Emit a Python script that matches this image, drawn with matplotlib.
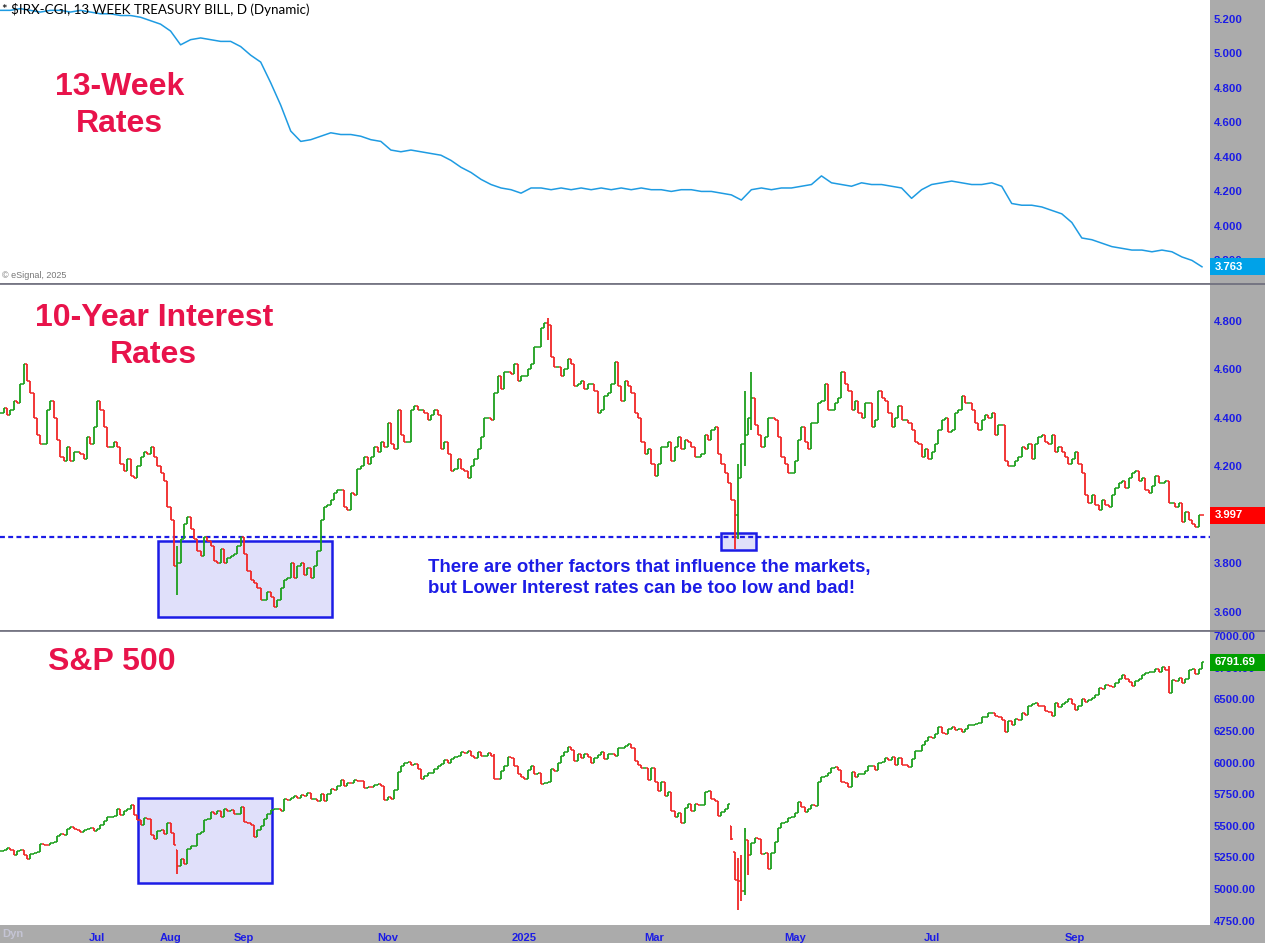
import numpy as np
import matplotlib
matplotlib.use("Agg")
import matplotlib.pyplot as plt
from matplotlib.patches import Rectangle
from matplotlib.lines import Line2D
from matplotlib.transforms import blended_transform_factory

# ---------------- data ----------------
# trading days per month shown (May 17 2024 ... Oct 24 2025)
month_names = ["May", "Jun", "Jul", "Aug", "Sep", "Oct", "Nov", "Dec", "2025",
               "Feb", "Mar", "Apr", "May", "Jun", "Jul", "Aug", "Sep", "Oct"]
month_days = [10, 19, 22, 22, 20, 23, 20, 21, 20, 19, 21, 21, 21, 20, 22, 21, 21, 18]
month_labelled = ["Jul", "Aug", "Sep", "Nov", "2025", "Mar", "May", "Jul", "Sep"]
month_label_slots = [2, 3, 4, 6, 8, 10, 12, 14, 16]

# 13-week T-bill (one reading every 3 trading days)
tbill = [5.25, 5.25, 5.26, 5.25, 5.24, 5.25, 5.25, 5.24, 5.25, 5.24,
         5.23, 5.23, 5.22, 5.22, 5.21, 5.19, 5.17, 5.13, 5.05, 5.08,
         5.09, 5.08, 5.07, 5.07, 5.04, 4.99, 4.95, 4.83, 4.70, 4.55,
         4.49, 4.50, 4.52, 4.54, 4.53, 4.53, 4.52, 4.50, 4.49, 4.44,
         4.43, 4.44, 4.43, 4.42, 4.41, 4.38, 4.34, 4.31, 4.27, 4.24,
         4.22, 4.21, 4.19, 4.22, 4.22, 4.21, 4.22, 4.21, 4.22, 4.21,
         4.22, 4.21, 4.22, 4.21, 4.22, 4.21, 4.21, 4.20, 4.21, 4.21,
         4.20, 4.20, 4.19, 4.18, 4.15, 4.21, 4.22, 4.21, 4.22, 4.22,
         4.23, 4.24, 4.29, 4.25, 4.24, 4.23, 4.25, 4.24, 4.24, 4.23,
         4.22, 4.16, 4.21, 4.24, 4.25, 4.26, 4.25, 4.24, 4.24, 4.25,
         4.23, 4.13, 4.12, 4.12, 4.11, 4.09, 4.07, 4.02, 3.93, 3.92,
         3.90, 3.88, 3.87, 3.86, 3.86, 3.85, 3.86, 3.85, 3.82, 3.80,
         3.763]

# 10-year yield daily closes
ten_year = [
    4.42, 4.44, 4.41, 4.43, 4.47, 4.46, 4.54, 4.62, 4.55, 4.50,
    4.40, 4.33, 4.29, 4.29, 4.43, 4.47, 4.40, 4.31, 4.24, 4.22, 4.28, 4.22, 4.26, 4.26, 4.25, 4.23, 4.32, 4.29, 4.36,
    4.47, 4.43, 4.36, 4.28, 4.28, 4.30, 4.28, 4.21, 4.18, 4.23, 4.16, 4.15, 4.20, 4.24, 4.26, 4.25, 4.28, 4.24, 4.20, 4.17, 4.14, 4.03,
    3.98, 3.79, 3.80, 3.90, 3.96, 3.99, 3.94, 3.90, 3.85, 3.83, 3.91, 3.89, 3.87, 3.81, 3.80, 3.86, 3.80, 3.82, 3.83, 3.84, 3.87, 3.91,
    3.84, 3.77, 3.73, 3.72, 3.70, 3.65, 3.65, 3.68, 3.66, 3.62, 3.65, 3.70, 3.73, 3.74, 3.80, 3.74, 3.79, 3.80, 3.75, 3.78,
    3.74, 3.79, 3.85, 3.98, 4.03, 4.04, 4.06, 4.09, 4.10, 4.10, 4.03, 4.02, 4.09, 4.08, 4.19, 4.20, 4.24, 4.21, 4.24, 4.28, 4.26, 4.30, 4.28,
    4.38, 4.29, 4.27, 4.43, 4.33, 4.30, 4.30, 4.43, 4.45, 4.43, 4.43, 4.42, 4.39, 4.41, 4.43, 4.41, 4.27, 4.30, 4.25, 4.18,
    4.19, 4.23, 4.19, 4.18, 4.15, 4.20, 4.23, 4.27, 4.32, 4.40, 4.40, 4.39, 4.50, 4.57, 4.52, 4.59, 4.59, 4.58, 4.62, 4.55, 4.57,
    4.57, 4.60, 4.62, 4.69, 4.69, 4.77, 4.79, 4.78, 4.65, 4.61, 4.61, 4.57, 4.60, 4.64, 4.62, 4.53, 4.54, 4.55, 4.52, 4.54,
    4.54, 4.51, 4.42, 4.43, 4.49, 4.50, 4.54, 4.63, 4.53, 4.47, 4.55, 4.53, 4.50, 4.42, 4.40, 4.30, 4.25, 4.27, 4.21,
    4.16, 4.21, 4.28, 4.28, 4.30, 4.22, 4.28, 4.32, 4.27, 4.31, 4.30, 4.28, 4.24, 4.24, 4.25, 4.33, 4.31, 4.35, 4.36, 4.25, 4.21,
    4.17, 4.13, 4.06, 4.00, 4.15, 4.29, 4.33, 4.40, 4.48, 4.37, 4.33, 4.28, 4.32, 4.40, 4.40, 4.39, 4.32, 4.24, 4.21, 4.17, 4.17,
    4.22, 4.31, 4.36, 4.30, 4.27, 4.38, 4.38, 4.46, 4.47, 4.54, 4.43, 4.43, 4.46, 4.48, 4.59, 4.54, 4.51, 4.43, 4.47, 4.42, 4.40,
    4.46, 4.46, 4.36, 4.39, 4.51, 4.48, 4.47, 4.42, 4.36, 4.40, 4.45, 4.39, 4.39, 4.38, 4.35, 4.30, 4.29, 4.24, 4.27, 4.23,
    4.26, 4.29, 4.35, 4.39, 4.40, 4.34, 4.35, 4.42, 4.43, 4.49, 4.46, 4.46, 4.43, 4.38, 4.35, 4.39, 4.41, 4.40, 4.42, 4.33, 4.37, 4.37,
    4.22, 4.20, 4.20, 4.22, 4.24, 4.28, 4.27, 4.29, 4.23, 4.29, 4.32, 4.33, 4.30, 4.29, 4.33, 4.26, 4.28, 4.26, 4.24, 4.21, 4.23,
    4.26, 4.21, 4.17, 4.08, 4.05, 4.08, 4.04, 4.02, 4.06, 4.04, 4.03, 4.08, 4.11, 4.13, 4.14, 4.11, 4.15, 4.17, 4.18, 4.14, 4.15,
    4.10, 4.09, 4.12, 4.16, 4.13, 4.13, 4.14, 4.05, 4.05, 4.03, 4.05, 3.97, 4.01, 3.98, 3.96, 3.95, 4.00, 3.997]
# wide-range sessions: (bar number, low, high)
ten_year_wide_bars = [(53, 3.67, 3.87), (164, 4.72, 4.81), (220, 3.86, 4.06),
                      (221, 3.90, 4.21), (223, 4.20, 4.51), (225, 4.35, 4.59)]

# S&P 500 daily closes
spx = [
    5303, 5308, 5321, 5307, 5268, 5305, 5306, 5267, 5235, 5278,
    5283, 5291, 5354, 5352, 5347, 5361, 5375, 5421, 5434, 5431, 5473, 5487, 5473, 5465, 5448, 5469, 5478, 5483, 5460,
    5475, 5509, 5537, 5567, 5572, 5577, 5633, 5585, 5615, 5631, 5667, 5588, 5545, 5505, 5564, 5555, 5427, 5399, 5459, 5464, 5436, 5522,
    5446, 5347, 5186, 5240, 5199, 5319, 5344, 5344, 5434, 5455, 5543, 5554, 5608, 5597, 5621, 5571, 5635, 5616, 5625, 5592, 5592, 5648,
    5529, 5520, 5503, 5408, 5471, 5496, 5554, 5596, 5626, 5634, 5634, 5618, 5714, 5703, 5719, 5732, 5722, 5745, 5738, 5762,
    5709, 5710, 5699, 5751, 5696, 5751, 5793, 5780, 5815, 5859, 5815, 5842, 5841, 5865, 5853, 5851, 5797, 5809, 5808, 5823, 5832, 5813, 5705,
    5729, 5712, 5783, 5929, 5973, 5996, 6001, 5984, 5985, 5949, 5871, 5894, 5917, 5917, 5949, 5970, 5987, 6021, 5999, 6032,
    6047, 6050, 6087, 6075, 6090, 6053, 6035, 6085, 6051, 6051, 6074, 6050, 5872, 5867, 5931, 5975, 6040, 6037, 5971, 5907, 5882,
    5869, 5942, 5975, 5909, 5918, 5827, 5836, 5843, 5950, 5937, 5997, 6049, 6086, 6119, 6101, 6012, 6067, 6039, 6071, 6041,
    5994, 6038, 6061, 6084, 6026, 6066, 6068, 6052, 6115, 6115, 6129, 6144, 6118, 6013, 5983, 5955, 5956, 5861, 5955,
    5850, 5779, 5843, 5738, 5770, 5615, 5573, 5599, 5522, 5639, 5675, 5615, 5675, 5663, 5668, 5768, 5777, 5712, 5693, 5581, 5612,
    5633, 5671, 5397, 5074, 5062, 4983, 5457, 5268, 5363, 5406, 5397, 5276, 5283, 5158, 5288, 5376, 5485, 5525, 5529, 5561, 5569,
    5604, 5687, 5650, 5607, 5631, 5664, 5660, 5844, 5886, 5892, 5917, 5958, 5964, 5940, 5845, 5842, 5803, 5922, 5889, 5912, 5912,
    5936, 5970, 5971, 5939, 6000, 6006, 6039, 6022, 6045, 5977, 6033, 5982, 5981, 5967, 6025, 6092, 6092, 6141, 6173, 6205,
    6198, 6227, 6279, 6230, 6226, 6263, 6280, 6260, 6269, 6244, 6264, 6297, 6297, 6306, 6309, 6359, 6363, 6389, 6390, 6371, 6362, 6339,
    6238, 6330, 6299, 6345, 6340, 6389, 6374, 6446, 6466, 6469, 6450, 6449, 6411, 6396, 6370, 6467, 6440, 6466, 6481, 6502, 6460,
    6416, 6448, 6502, 6482, 6495, 6513, 6532, 6588, 6584, 6615, 6607, 6600, 6632, 6664, 6693, 6657, 6638, 6605, 6644, 6661, 6688,
    6711, 6715, 6716, 6740, 6715, 6753, 6735, 6553, 6655, 6644, 6671, 6630, 6664, 6735, 6736, 6699, 6738, 6791.69]
spx_wide_bars = [(53, 5120, 5312), (148, 5867, 6070), (219, 5390, 5500), (220, 5069, 5292),
                 (221, 4835, 5246), (222, 4910, 5267), (223, 4950, 5481), (224, 5115, 5390),
                 (350, 6550, 6765)]

tbill_ticks = [3.8, 4.0, 4.2, 4.4, 4.6, 4.8, 5.0, 5.2]
ten_ticks = [3.6, 3.8, 4.0, 4.2, 4.4, 4.6, 4.8]
spx_ticks = [4750, 5000, 5250, 5500, 5750, 6000, 6250, 6500, 6750, 7000]

support_level = 3.908
# highlight boxes: (first bar, last bar, low, high)
ten_box_summer = (47.2, 99.4, 3.579, 3.893)
ten_box_april = (215.9, 226.3, 3.854, 3.926)
spx_box_summer = (41.3, 81.3, 5046, 5722)

# ---------------- styling ----------------
W, H = 1265, 943
GRAY = "#ababab"
BLUE = "#1c1ce6"
TITLE = "#e8134b"
GREEN = "#1d9f1d"
RED = "#f02626"
LINEBLUE = "#1e9be2"
plt.rcParams["font.family"] = ["Liberation Sans", "DejaVu Sans"]

fig = plt.figure(figsize=(W / 100, H / 100), dpi=100, facecolor=GRAY)
plot_w = 1210 / W
ax1 = fig.add_axes([0, 1 - 283 / H, plot_w, 283 / H])
ax2 = fig.add_axes([0, 1 - 630 / H, plot_w, 346 / H])
ax3 = fig.add_axes([0, 1 - 925 / H, plot_w, 294 / H])

n = len(ten_year)
month_start = np.concatenate([[0], np.cumsum(month_days)[:-1]])

for ax in (ax1, ax2, ax3):
    ax.set_facecolor("white")
    for s in ax.spines.values():
        s.set_visible(False)
    ax.set_xlim(-0.1, 362.4)
    ax.yaxis.tick_right()
    ax.tick_params(axis="y", length=0, pad=2.5, labelsize=8.2, labelcolor=BLUE)
    ax.set_xticks([])


def draw_ohlc(ax, closes, wide):
    c = np.asarray(closes, dtype=float)
    o = np.r_[c[0], c[:-1]]
    hi = np.maximum(o, c)
    lo = np.minimum(o, c)
    for i, l, h in wide:
        lo[i] = l
        hi[i] = h
    o = np.clip(o, lo, hi)
    cols = np.where(c >= o, GREEN, RED)
    x = np.arange(len(c))
    ax.vlines(x, lo, hi, colors=cols, lw=1.3, zorder=3)
    ax.hlines(o, x - 0.5, x, colors=cols, lw=1.1, zorder=3)
    ax.hlines(c, x, x + 0.5, colors=cols, lw=1.1, zorder=3)


def badge(ax, value, text, color):
    tr = blended_transform_factory(ax.transAxes, ax.transData)
    y0, y1 = ax.get_ylim()
    px_h = ax.get_position().height * H
    h = 17 * (y1 - y0) / px_h
    ax.add_patch(Rectangle((1.0, value - h / 2), W / 1210 - 1.0, h, transform=tr,
                           facecolor=color, edgecolor="none", clip_on=False, zorder=10))
    ax.text(1.0 + 5 / 1210, value, text, transform=tr, color="white", fontsize=8.2,
            fontweight="bold", va="center", ha="left", clip_on=False, zorder=11)


# ---- top: 13-week bill
ax1.set_ylim(3.669, 5.31)
ax1.plot(np.arange(len(tbill)) * 3, tbill, color=LINEBLUE, lw=1.1, zorder=3)
ax1.set_yticks(tbill_ticks)
ax1.set_yticklabels([f"{v:.3f}" for v in tbill_ticks], fontweight="bold")
badge(ax1, tbill[-1], f"{tbill[-1]:.3f}", "#00a2e8")
ax1.text(0.002, 0.965, "* $IRX-CGI, 13 WEEK TREASURY BILL, D (Dynamic)", transform=ax1.transAxes,
         fontsize=9.6, color="black", va="center", ha="left", family=["Lato", "DejaVu Sans"], zorder=5)
ax1.text(0.002, 0.028, "© eSignal, 2025", transform=ax1.transAxes, fontsize=6.5,
         color="#777777", va="center", ha="left")
ax1.text(0.099, 0.628, "13-Week\nRates", transform=ax1.transAxes, fontsize=23,
         fontweight="bold", color=TITLE, ha="center", va="center", linespacing=1.32)

# ---- middle: 10-year
ax2.set_ylim(3.525, 4.951)
for b in (ten_box_summer, ten_box_april):
    ax2.add_patch(Rectangle((b[0], b[2]), b[1] - b[0], b[3] - b[2], facecolor="#e0e0fa",
                            edgecolor=BLUE, lw=1.8, zorder=1))
ax2.axhline(support_level, color=BLUE, lw=1.6, ls=(0, (2.2, 1.5)), zorder=2)
draw_ohlc(ax2, ten_year, ten_year_wide_bars)
ax2.set_yticks(ten_ticks)
ax2.set_yticklabels([f"{v:.3f}" for v in ten_ticks], fontweight="bold")
badge(ax2, ten_year[-1], f"{ten_year[-1]:.3f}", "#ff0000")
ax2.text(0.127, 0.848, "10-Year Interest\nRates", transform=ax2.transAxes, fontsize=23,
         fontweight="bold", color=TITLE, ha="center", va="center", linespacing=1.32)
ax2.text(0.3537, 0.150, "There are other factors that influence the markets,\n"
         "but Lower Interest rates can be too low and bad!", transform=ax2.transAxes,
         fontsize=13.4, fontweight="bold", color=BLUE, ha="left", va="center", linespacing=1.36)

# ---- bottom: S&P 500
ax3.set_ylim(4716.5, 7039.5)
b = spx_box_summer
ax3.add_patch(Rectangle((b[0], b[2]), b[1] - b[0], b[3] - b[2], facecolor="#e0e0fa",
                        edgecolor=BLUE, lw=1.8, zorder=1))
draw_ohlc(ax3, spx, spx_wide_bars)
ax3.set_yticks(spx_ticks)
ax3.set_yticklabels([f"{v:.2f}" for v in spx_ticks], fontweight="bold")
badge(ax3, spx[-1], f"{spx[-1]:.2f}", "#00a000")
ax3.text(0.0397, 0.895, "S&P 500", transform=ax3.transAxes, fontsize=23,
         fontweight="bold", color=TITLE, ha="left", va="center")
ax3.set_xticks([month_start[s] for s in month_label_slots])
ax3.set_xticklabels(month_labelled, fontweight="bold")
ax3.tick_params(axis="x", length=0, pad=5.5, labelsize=8, labelcolor=BLUE)

fig.text(2 / W, 1 - 934 / H, "Dyn", fontsize=8, fontweight="bold", color="#c4c4d4",
         ha="left", va="center")

for ypix in (283.5, 630.5):
    fig.add_artist(Line2D([0, 1], [1 - ypix / H, 1 - ypix / H], transform=fig.transFigure,
                          color="#6c6c7c", lw=1.2))

fig.savefig("out.png", dpi=100, facecolor=GRAY)
